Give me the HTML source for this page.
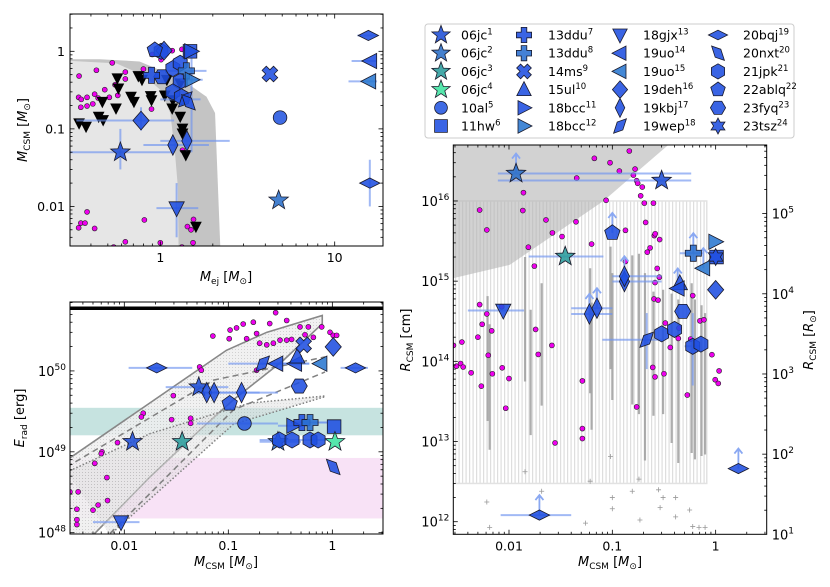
<!DOCTYPE html>
<html><head><meta charset="utf-8">
<style>
html,body{margin:0;padding:0;background:#fff;}
svg{display:block;font-family:"DejaVu Sans","Liberation Sans",sans-serif;}
</style></head>
<body>
<svg id="fig" width="830" height="587" viewBox="0 0 830 587" xmlns="http://www.w3.org/2000/svg">
<defs>
<pattern id="dots" width="3" height="3" patternUnits="userSpaceOnUse"><rect width="3" height="3" fill="#efefef"/><circle cx="1.5" cy="1.5" r="0.5" fill="#bcbcbc"/></pattern>
<pattern id="dots2" width="3" height="3" patternUnits="userSpaceOnUse"><rect width="3" height="3" fill="#e0e0e0"/><circle cx="1.5" cy="1.5" r="0.55" fill="#aaaaaa"/></pattern>
<pattern id="vstripes" width="3.5" height="10" patternUnits="userSpaceOnUse"><rect width="3.5" height="10" fill="#ffffff"/><rect width="1.2" height="10" fill="#dedede"/></pattern>
<clipPath id="clipA"><rect x="70" y="14" width="313" height="232"/></clipPath>
<clipPath id="clipB"><rect x="70" y="302" width="313" height="232"/></clipPath>
<clipPath id="clipC"><rect x="453.3" y="145" width="313.4" height="389.3"/></clipPath>
</defs>
</svg>
<script>
// ---------------- Panel A data: M_ej vs M_CSM ----------------
const aPinkX=[0.342,0.34,0.352,0.35,0.38,0.38,0.41,0.42,0.43,0.44,0.48,0.51,0.53,0.55,0.57,0.63,0.63,0.80,0.90,0.89,1.01,1.17,1.33,1.34,0.34,0.35,0.38,0.37,0.42,0.63,0.81,1.0,1.33,1.55,1.43,1.5,1.54,0.54];
const aPinkY=[0.48,0.255,0.24,0.19,0.255,0.197,0.21,0.28,0.57,0.25,0.32,0.255,0.71,0.37,0.27,0.54,0.44,0.59,0.91,0.18,0.78,1.02,1.06,0.053,0.0053,0.0061,0.0085,0.0061,0.0052,0.0035,0.0067,0.0034,0.0030,0.0068,0.0055,0.005,0.0034,0.003];
const aBlackX=[0.342,0.375,0.443,0.47,0.465,0.557,0.575,0.567,0.679,0.706,0.748,0.785,0.88,0.89,1.06,1.18,1.17,1.30,1.34,1.34,1.40,1.6,1.09,1.30];
const aBlackY=[0.118,0.107,0.144,0.13,0.224,0.184,0.333,0.45,0.26,0.224,0.48,0.43,0.265,0.235,0.27,0.235,0.184,0.144,0.101,0.0875,0.046,0.0055,0.43,0.386];
const aBlueKind=['jpk','deh','jpk','jpk','jpk','jpk','jpk','fyq','ddu7','ddu8','hw','bcc11','bcc12','wep','nxt','deh','kbj','kbj','jc1','gjx','ms','al','jc2','bqj','uo14','uo15','bqj','ablq'];
const aBlueX=[1.01,1.05,1.18,1.3,1.3,1.18,1.32,1.02,0.89,1.41,1.48,1.5,1.51,1.39,1.45,0.775,1.18,1.42,0.59,1.24,4.25,4.86,4.77,15.6,16.0,15.8,15.9,0.93];
const aBlueY=[1.0,1.02,0.6,0.7,0.41,0.3,0.26,0.47,0.49,0.56,1.0,1.0,0.43,0.24,0.22,0.128,0.062,0.07,0.05,0.0095,0.51,0.14,0.012,1.6,0.75,0.41,0.02,1.04];
const aBlueXlo=[null,null,null,null,null,null,null,null,null,1.0,null,null,1.3,1.0,null,0.33,0.8,1.0,0.3,0.95,null,null,null,13.5,12.5,12,null,null];
const aBlueXhi=[null,null,null,null,null,null,null,null,null,1.84,null,null,1.75,1.7,null,1.2,1.9,2.5,1.2,1.65,null,null,null,17.5,17.5,17.5,null,null];
const aBlueYlo=[null,null,null,null,null,null,null,null,null,null,null,null,0.05,null,null,0.095,null,null,0.03,0.004,null,null,null,null,null,null,0.01,null];
const aBlueYhi=[null,null,null,null,null,null,null,null,null,null,null,null,0.9,null,null,0.19,null,null,0.1,0.02,null,null,null,null,null,null,0.04,null];
const aRegionOuterX=[0.2,0.45,0.76,1.0,1.42,1.84,2.06,2.25,0.2];
const aRegionOuterY=[0.79,0.79,0.74,0.57,0.39,0.26,0.16,0.001,0.001];
const aRegionInnerX=[0.2,0.56,0.8,1.0,1.14,1.21,1.26,1.28,0.2];
const aRegionInnerY=[0.79,0.70,0.49,0.32,0.16,0.053,0.018,0.001,0.001];
const aXTicks=[1,10]; const aXTickLabels=['1','10'];
const aYTicks=[1,0.1,0.01]; const aYTickLabels=['1','0.1','0.01'];

// ---------------- Panel B data: M_CSM vs E_rad ----------------
const bPinkX=[0.285,0.364,0.174,0.139,0.12,0.104,0.102,0.071,0.15,0.187,0.2,0.234,0.271,0.314,0.364,0.406,0.489,0.588,0.546,0.657,0.79,0.95,1.02,1.1,0.25,0.187,0.053,0.055,0.0296,0.0152,0.0146,0.0285,0.0434,0.0434,0.0086,0.0061,0.0052,0.006,0.0068,0.0069,0.0056,0.005,0.0036,0.0035,0.0035,0.003,0.0035];
const bPinkY=[5.25e50,4.2e50,4.0e50,3.8e50,3.4e50,3.2e50,2.5e50,2.7e50,2.5e50,2.9e50,2.2e50,2.1e50,2.2e50,2.4e50,2.4e50,2.45e50,3.5e50,3.5e50,2.8e50,2.6e50,3.5e50,3.0e50,2.75e50,2.75e50,3.85e50,1.02e50,1.12e50,1.02e50,4.95e49,3.0e49,2.7e49,2.5e49,2.6e49,2.25e49,1.3e49,1.0e49,7.2e48,9.5e48,4.8e48,2.5e48,2.2e48,1.9e48,3.2e48,1.95e48,1.26e48,3.2e48,1.45e48];
const bBlueKind=['bqj','bqj','deh','jc1','kbj','kbj','kbj','ablq','fyq','wep','uo14','uo14','uo15','ul','ms','al','bcc11','ddu7','ddu8','hw','jc1','jc3','jc2','jc4','jpk','jpk','jpk','jpk','nxt','gjx'];
const bBlueX=[0.0205,1.67,1.02,0.052,0.062,0.073,0.134,0.103,0.48,0.214,0.29,0.44,0.77,0.46,0.53,0.143,0.42,0.51,0.61,1.04,0.012,0.036,0.30,1.06,0.31,0.41,0.61,0.73,1.02,0.0093];
const bBlueY=[1.09e50,1.09e50,1.98e50,6.3e49,5.4e49,5.4e49,5.4e49,3.95e49,6.5e49,1.23e50,1.23e50,1.23e50,1.23e50,1.5e50,2.1e50,2.24e49,2.1e49,2.3e49,2.3e49,2.05e49,1.33e49,1.33e49,1.33e49,1.33e49,1.4e49,1.4e49,1.4e49,1.4e49,6.5e48,1.35e48];
const bBlueXlo=[0.011,1.2,null,0.025,null,0.05,0.05,null,null,0.1,0.2,0.3,null,null,null,0.05,0.3,0.4,0.4,null,null,null,0.2,null,0.2,null,0.5,null,null,0.005];
const bBlueXhi=[0.045,2.2,null,0.1,null,0.2,0.3,null,null,0.5,0.6,0.6,null,null,null,0.3,0.6,0.9,0.9,null,null,null,0.5,null,0.5,null,0.9,null,null,0.014];
const bOutlineX=[0.0028,0.096,0.234,0.8,0.8,0.338,0.112,0.053,0.0177,0.005,0.0028];
const bOutlineY=[7.9e48,1.8e50,3.0e50,4.85e50,3.84e50,1.35e50,4.4e49,1.85e49,4.9e48,9.3e47,9.3e47];
const bDashUpX=[0.0028,0.072,0.85]; const bDashUpY=[6.5e48,7.7e49,1.49e50];
const bDashLoX=[0.0073,0.112,0.85]; const bDashLoY=[9.8e47,3.3e49,9.7e49];
const bDotUpX=[0.0028,0.0177,0.16,0.85]; const bDotUpY=[5.6e48,1.68e49,4.0e49,4.9e49];
const bDotLoX=[0.0073,0.112,0.85]; const bDotLoY=[9.4e47,2.2e49,4.8e49];
const bTealBand=[1.6e49,3.5e49]; const bPinkBand=[1.5e48,8.4e48];
const bXTicks=[0.01,0.1,1]; const bXTickLabels=['0.01','0.1','1'];
const bYTicks=[1e48,1e49,1e50]; const bYTickExp=['48','49','50'];

// ---------------- Panel C data: M_CSM vs R_CSM ----------------
const cPinkX=[0.0029,0.0035,0.0031,0.0034,0.0036,0.0043,0.0052,0.0054,0.005,0.0055,0.0061,0.0063,0.0061,0.0052,0.0069,0.0068,0.0085,0.0086,0.0093,0.01,0.0138,0.0136,0.0154,0.0176,0.0181,0.0192,0.0228,0.0263,0.026,0.0279,0.0326,0.0445,0.0452,0.0513,0.0513,0.0513,0.063,0.067,0.087,0.095,0.117,0.134,0.134,0.146,0.166,0.16,0.172,0.176,0.195,0.188,0.204,0.21,0.218,0.232,0.25,0.255,0.26,0.287,0.272,0.259,0.285,0.253,0.277,0.246,0.259,0.316,0.326,0.364,0.435,0.442,0.532,0.573,0.6,0.705,0.77,0.92,0.99,1.06,1.08,0.172];
const cPinkY=[1.58e14,1.74e14,8.7e13,9.4e13,8.5e13,7.2e13,5.1e14,4.9e13,2.0e14,2.9e14,3.9e14,1.19e14,4.35e15,7.7e15,7e13,2.4e14,4.8e14,8.3e13,2.6e13,6.1e13,1.27e16,7.6e15,2.65e15,1.54e15,2.5e14,1.22e14,5.8e15,4e15,1.58e14,9.6e12,3.6e15,5.5e15,1.93e16,5.7e13,1.45e13,1.09e13,2.9e15,3.4e16,1.02e16,3e16,2.36e16,4.3e15,1.76e15,4.2e16,2.5e16,2.1e16,1.79e16,1.66e16,1.49e16,1.16e16,9.4e15,5.4e15,2.3e15,2.6e15,9.4e15,3.7e15,3.9e15,3.3e15,1.44e15,9.6e14,1.12e15,6e14,5.8e14,8.4e13,6.4e13,7e13,3e14,1.49e14,1.93e14,2.6e14,3.8e13,1.9e14,6.6e14,3.2e14,3.3e14,1.21e14,5.9e13,5.3e13,7.6e13,2.7e13];
const cBarX=[0.0062,0.0065,0.0143,0.0162,0.0207,0.061,0.063,0.096,0.1,0.156,0.181,0.207,0.25,0.31,0.375,0.435,0.586,0.63,0.73,0.79];
const cBarLo=[1.8e13,7.9e12,5.6e13,1.2e13,2.8e13,4e13,1.4e13,8e13,3.3e13,2.9e13,2.2e13,5.8e12,2.1e13,2.2e13,9.6e12,5.4e12,7.2e12,6e12,6.6e12,6.9e12];
const cBarHi=[6.5e14,2.9e14,2e15,4.4e14,9.4e14,1.45e15,5.4e14,2.7e15,1.26e15,2.1e15,2.2e15,1.26e15,7.4e14,7.8e14,7e14,5.9e14,9.4e14,5.9e14,5e14,4e14];
const cPlusX=[0.0061,0.0065,0.0143,0.0207,0.061,0.055,0.096,0.1,0.1,0.156,0.181,0.185,0.28,0.31,0.29,0.41,0.41,0.56,0.6,0.69,0.79];
const cPlusY=[1.76e12,8.5e11,4.2e12,2.4e12,3.2e12,9.6e11,6.5e12,2e12,1.45e12,2.4e12,3.4e12,1.05e12,2.5e12,2e12,1.5e12,2e12,1.15e12,1.4e12,8.7e11,8.5e11,8.5e11];
const cShadeX=[0.0025,0.0102,0.082,0.348,0.348,0.0025]; const cShadeY=[1.04e15,1.6e15,1e16,5e16,6e16,6e16];
const cHatchX=[0.0025,0.82]; const cHatchY=[3e12,1e16];
const cBlueKind=['jc2','jc1','jc3','gjx','ablq','kbj','kbj','kbj','kbj','ddu8','bcc12','hw','tsz','uo15','ul','uo14','deh','fyq','wep','jpk','jpk','jpk','jpk','bqj','bqj'];
const cBlueX=[0.0117,0.30,0.035,0.0088,0.10,0.06,0.071,0.131,0.131,0.608,0.99,1.02,1.0,0.76,0.45,0.43,1.0,0.48,0.215,0.30,0.40,0.60,0.72,1.66,0.0197];
const cBlueY=[2.2e16,1.8e16,2.03e15,4.3e14,4e15,3.9e14,4.6e14,9.9e14,1.15e15,2.23e15,3.1e15,2e15,2e15,1.45e15,9.4e14,8.1e14,7.8e14,4.2e14,1.86e14,2.2e14,2.5e14,1.54e14,1.64e14,4.6e12,1.21e12];
const cBlueXlo=[0.0078,0.0078,0.0155,0.004,null,0.04,0.04,0.1,0.1,0.45,null,null,null,null,null,null,null,null,0.08,null,null,0.5,null,null,0.0083];
const cBlueXhi=[0.58,0.58,0.082,0.014,null,0.1,0.1,0.3,0.3,0.75,null,null,null,null,null,null,null,null,0.3,null,null,0.7,null,null,0.04];
const cBlueYlo=[null,null,null,null,null,null,null,null,null,null,null,null,null,null,null,null,null,null,8e13,null,null,5e13,null,null,null];
const cBlueYhi=[null,null,null,null,null,null,null,null,null,null,null,null,null,null,null,null,null,null,4e14,null,null,4e14,null,null,null];
const cBlueUp=[1,0,0,0,1,1,1,0,1,1,0,0,0,1,0,1,0,0,0,0,0,0,0,1,1];
const cXTicks=[0.01,0.1,1]; const cXTickLabels=['0.01','0.1','1'];
const cYTicks=[1e12,1e13,1e14,1e15,1e16]; const cYTickExp=['12','13','14','15','16'];
const cRTicks=[1e1,1e2,1e3,1e4,1e5]; const cRTickExp=['1','2','3','4','5'];
const RSUN=6.957e10;

// ---------------- Legend ----------------
const legKinds=['jc1','jc2','jc3','jc4','al','hw','ddu7','ddu8','ms','ul','bcc11','bcc12','gjx','uo14','uo15','deh','kbj','wep','bqj','nxt','jpk','ablq','fyq','tsz'];
const legNames=['06jc','06jc','06jc','06jc','10al','11hw','13ddu','13ddu','14ms','15ul','18bcc','18bcc','18gjx','19uo','19uo','19deh','19kbj','19wep','20bqj','20nxt','21jpk','22ablq','23fyq','23tsz'];
const legRefs=['1','2','3','4','5','6','7','8','9','10','11','12','13','14','15','16','17','18','19','20','21','22','23','24'];

// ================= drawing =================
const NS='http://www.w3.org/2000/svg';
const svg=document.getElementById('fig');
function mk(tag,attrs,parent){const e=document.createElementNS(NS,tag);for(const k in attrs)e.setAttribute(k,attrs[k]);(parent||svg).appendChild(e);return e;}
const L=Math.log10;
function axes(px0,px1,py0,py1,lx0,lx1,ly0,ly1){
  return {sx:v=>px0+(L(v)-lx0)/(lx1-lx0)*(px1-px0), sy:v=>py0+(L(v)-ly0)/(ly1-ly0)*(py1-py0), px0,px1,py0,py1,lx0,lx1,ly0,ly1};
}
const A=axes(70,383,14,246,-0.518,1.277,0.481,-2.51);
const B=axes(70,383,302,534,-2.522,0.487,50.852,47.984);
const C=axes(453.3,766.7,145,534.3,-2.539,0.494,16.698,11.843);

const STY={jc1:['star5','#1f4fd6'],jc2:['star5','#2a6ec8'],jc3:['star5','#2b9c9c'],jc4:['star5','#3fe3a0'],al:['circle','#2457e0'],hw:['square','#1f4fe0'],ddu7:['plus','#1f4fe0'],ddu8:['plus','#2a70d0'],ms:['xcross','#1f4fe0'],ul:['triUp','#1f4fe0'],bcc11:['triRight','#1f4fe0'],bcc12:['triRight','#2a78d0'],gjx:['triDown','#1f4fe0'],uo14:['triLeft','#1f4fe0'],uo15:['triLeft','#2a78d0'],deh:['diamond','#1f4fe0'],kbj:['thin','#1f4fe0'],wep:['para','#1f4fe0'],bqj:['wide','#1f4fe0'],nxt:['para2','#1f4fe0'],jpk:['hex','#1f4fe0'],ablq:['pent','#1f4fe0'],fyq:['oct','#1f4fe0'],tsz:['star6','#1f4fe0']};
function poly(n,r,rot){let p=[];for(let i=0;i<n;i++){const a=rot+i*2*Math.PI/n;p.push([r*Math.cos(a),r*Math.sin(a)]);}return p;}
function starp(n,ro,ri){let p=[];for(let i=0;i<2*n;i++){const a=-Math.PI/2+i*Math.PI/n;const r=i%2?ri:ro;p.push([r*Math.cos(a),r*Math.sin(a)]);}return p;}
function shapePts(t,s){
  switch(t){
    case 'star5':return starp(5,s*1.2,s*0.5);
    case 'star6':return starp(6,s*1.0,s*0.55);
    case 'square':return [[-s*.8,-s*.8],[s*.8,-s*.8],[s*.8,s*.8],[-s*.8,s*.8]];
    case 'triUp':return [[0,-s],[s*.9,s*.75],[-s*.9,s*.75]];
    case 'triDown':return [[0,s],[s*.9,-s*.75],[-s*.9,-s*.75]];
    case 'triLeft':return [[-s,0],[s*.75,-s*.9],[s*.75,s*.9]];
    case 'triRight':return [[s,0],[-s*.75,-s*.9],[-s*.75,s*.9]];
    case 'diamond':return [[0,-s*1.1],[s*.95,0],[0,s*1.1],[-s*.95,0]];
    case 'thin':return [[0,-s*1.2],[s*.6,0],[0,s*1.2],[-s*.6,0]];
    case 'wide':return [[-s*1.2,0],[0,-s*.6],[s*1.2,0],[0,s*.6]];
    case 'para':return [[-s*.8,s*.9],[-s*.35,-s*.5],[s*.8,-s*.9],[s*.35,s*.5]];
    case 'para2':return [[-s*.8,-s*.9],[s*.35,-s*.5],[s*.8,s*.9],[-s*.35,s*.5]];
    case 'hex':return poly(6,s*.95,-Math.PI/2);
    case 'pent':return poly(5,s*.95,-Math.PI/2);
    case 'oct':return poly(6,s*.95,0);
    case 'plus':{const a=s*.35,b=s*.95;return [[-a,-b],[a,-b],[a,-a],[b,-a],[b,a],[a,a],[a,b],[-a,b],[-a,a],[-b,a],[-b,-a],[-a,-a]];}
    case 'xcross':{const a=s*.35,b=s*.95;const c=Math.SQRT1_2;return [[-a,-b],[a,-b],[a,-a],[b,-a],[b,a],[a,a],[a,b],[-a,b],[-a,a],[-b,a],[-b,-a],[-a,-a]].map(([x,y])=>[(x-y)*c,(x+y)*c]);}
  }
}
function marker(kind,cx,cy,s,parent){
  const st=STY[kind];
  if(st[0]==='circle'){return mk('circle',{cx,cy,r:s*.8,fill:st[1],'fill-opacity':0.88,stroke:'#1a1a2a','stroke-width':0.8},parent);}
  const pts=shapePts(st[0],s).map(p=>(cx+p[0]).toFixed(2)+','+(cy+p[1]).toFixed(2)).join(' ');
  return mk('polygon',{points:pts,fill:st[1],'fill-opacity':0.88,stroke:'#1a1a2a','stroke-width':0.8,'stroke-linejoin':'miter'},parent);
}
function linePath(ax,xs,ys){return xs.map((x,i)=>(i?'L':'M')+ax.sx(x).toFixed(2)+','+ax.sy(ys[i]).toFixed(2)).join(' ');}

function frame(ax,name,topTicks,rightTicks){
  const g=mk('g',{});
  
  
  mk('rect',{x:ax.px0,y:ax.py0,width:ax.px1-ax.px0,height:ax.py1-ax.py0,fill:'none',stroke:'#000','stroke-width':1},g);
  const tick=(x1,y1,x2,y2)=>mk('line',{x1,y1,x2,y2,stroke:'#000','stroke-width':0.8},g);
  for(let d=Math.floor(ax.lx0);d<=Math.ceil(ax.lx1);d++){for(let k=1;k<10;k++){const l=d+L(k);if(l<ax.lx0||l>ax.lx1)continue;const x=ax.px0+(l-ax.lx0)/(ax.lx1-ax.lx0)*(ax.px1-ax.px0);const len=k===1?4.5:2.5;tick(x,ax.py1,x,ax.py1-len);if(topTicks)tick(x,ax.py0,x,ax.py0+len);}}
  const ylo=Math.min(ax.ly0,ax.ly1),yhi=Math.max(ax.ly0,ax.ly1);
  for(let d=Math.floor(ylo);d<=Math.ceil(yhi);d++){for(let k=1;k<10;k++){const l=d+L(k);if(l<ylo||l>yhi)continue;const y=ax.py0+(l-ax.ly0)/(ax.ly1-ax.ly0)*(ax.py1-ax.py0);const len=k===1?4.5:2.5;tick(ax.px0,y,ax.px0+len,y);if(rightTicks)tick(ax.px1,y,ax.px1-len,y);}}
  return g;
}
function xlabels(ax,vals,labels,name){
  vals.forEach((v,i)=>{const t=mk('text',{x:ax.sx(v),y:ax.py1+16,'text-anchor':'middle','font-size':12.5,fill:'#000'});t.textContent=labels[i];
  
  });
}
function ylabelsPlain(ax,vals,labels,name){
  vals.forEach((v,i)=>{const t=mk('text',{x:ax.px0-5,y:ax.sy(v)+4.5,'text-anchor':'end','font-size':12.5,fill:'#000'});t.textContent=labels[i];
  
  });
}
function ylabelsExp(x,anchor,yfun,vals,exps,name){
  vals.forEach((v,i)=>{const y=yfun(v);const t=mk('text',{x,y:y+5,'text-anchor':anchor,'font-size':13,fill:'#000'});
  const a=mk('tspan',{},t);a.textContent='10';const b=mk('tspan',{dy:-6,'font-size':9},t);b.textContent=exps[i];
  
  });
}
function pink(ax,xs,ys,parent,name){
  xs.forEach((x,i)=>{const c=mk('circle',{cx:ax.sx(x),cy:ax.sy(ys[i]),r:2.5,fill:'#ee00ee',stroke:'#222','stroke-width':0.6},parent);
  
  });
}
function errbars(ax,xs,ys,xlo,xhi,ylo,yhi,parent){
  xs.forEach((x,i)=>{
    if(xlo&&xlo[i]!=null){const l=mk('line',{x1:ax.sx(xlo[i]),x2:ax.sx(xhi[i]),y1:ax.sy(ys[i]),y2:ax.sy(ys[i]),stroke:'#6f94ef','stroke-width':2,'stroke-opacity':0.65},parent);
      
      }
    if(ylo&&ylo[i]!=null){const l=mk('line',{x1:ax.sx(x),x2:ax.sx(x),y1:ax.sy(ylo[i]),y2:ax.sy(yhi[i]),stroke:'#6f94ef','stroke-width':2,'stroke-opacity':0.65},parent);
      
      }
  });
}
function blues(ax,xs,ys,kinds,parent,size){
  xs.forEach((x,i)=>{const m=marker(kinds[i],ax.sx(x),ax.sy(ys[i]),size,parent);
  
  });
}

// ---------- Panel A ----------
{
const g=mk('g',{'clip-path':'url(#clipA)'});


const r1=mk('path',{d:linePath(A,aRegionOuterX,aRegionOuterY)+'Z',fill:'#c4c4c4'},g);


const r2=mk('path',{d:linePath(A,aRegionInnerX,aRegionInnerY)+'Z',fill:'#e6e6e6'},g);


pink(A,aPinkX,aPinkY,g,'model-point');
aBlackX.forEach((x,i)=>{const pts=shapePts('triDown',6.5).map(p=>(A.sx(x)+p[0])+','+(A.sy(aBlackY[i])+p[1])).join(' ');
  const t=mk('polygon',{points:pts,fill:'#000'},g);
  
  });
errbars(A,aBlueX,aBlueY,aBlueXlo,aBlueXhi,aBlueYlo,aBlueYhi,g);
blues(A,aBlueX,aBlueY,aBlueKind,g,8.5);
frame(A,'panel-a',true,true);
xlabels(A,aXTicks,aXTickLabels,'panel-a');
ylabelsPlain(A,aYTicks,aYTickLabels,'panel-a');
}
// ---------- Panel B ----------
{
const g=mk('g',{'clip-path':'url(#clipB)'});


const tb=mk('rect',{x:B.px0,width:B.px1-B.px0,y:B.sy(bTealBand[1]),height:B.sy(bTealBand[0])-B.sy(bTealBand[1]),fill:'#c6e3e0'},g);


const pb=mk('rect',{x:B.px0,width:B.px1-B.px0,y:B.sy(bPinkBand[1]),height:B.sy(bPinkBand[0])-B.sy(bPinkBand[1]),fill:'#f8e2f6'},g);


const ol=mk('path',{d:linePath(B,bOutlineX,bOutlineY)+'Z',fill:'url(#dots)','fill-opacity':0.85,stroke:'#888','stroke-width':1.6},g);


const inner=mk('path',{d:linePath(B,bDotUpX,bDotUpY)+' '+linePath(B,bDotLoX.slice().reverse(),bDotLoY.slice().reverse()).replace('M','L')+'Z',fill:'url(#dots2)','fill-opacity':0.5},g);


[[bDashUpX,bDashUpY,'6,4','dashed-upper'],[bDashLoX,bDashLoY,'6,4','dashed-lower'],[bDotUpX,bDotUpY,'1.5,2','dotted-upper'],[bDotLoX,bDotLoY,'1.5,2','dotted-lower']].forEach(a=>{
  const p=mk('path',{d:linePath(B,a[0],a[1]),fill:'none',stroke:'#808080','stroke-width':1.5,'stroke-dasharray':a[2]},g);
  
  });
pink(B,bPinkX,bPinkY,g,'model-point');
errbars(B,bBlueX,bBlueY,bBlueXlo,bBlueXhi,null,null,g);
blues(B,bBlueX,bBlueY,bBlueKind,g,8.5);
const tl=mk('rect',{x:B.px0,y:306.5,width:B.px1-B.px0,height:3.5,fill:'#000'});


frame(B,'panel-b',true,true);
xlabels(B,bXTicks,bXTickLabels,'panel-b');
ylabelsExp(B.px0-4,'end',B.sy,bYTicks,bYTickExp,'panel-b-y');
}
// ---------- Panel C ----------
{
const g=mk('g',{'clip-path':'url(#clipC)'});


const h=mk('rect',{x:C.sx(cHatchX[0]),y:C.sy(cHatchY[1]),width:C.sx(cHatchX[1])-C.sx(cHatchX[0]),height:C.sy(cHatchY[0])-C.sy(cHatchY[1]),fill:'url(#vstripes)',stroke:'#e2e2e2','stroke-width':1.5},g);


const sh=mk('path',{d:linePath(C,cShadeX,cShadeY)+'Z',fill:'#b4b4b4','fill-opacity':0.6},g);


cBarX.forEach((x,i)=>{const b=mk('line',{x1:C.sx(x),x2:C.sx(x),y1:C.sy(cBarLo[i]),y2:C.sy(cBarHi[i]),stroke:'#9a9a9a','stroke-width':2.2,'stroke-opacity':0.8},g);
  
  });
cPlusX.forEach((x,i)=>{const X=C.sx(x),Y=C.sy(cPlusY[i]);const p=mk('path',{d:`M${X-2.5},${Y}H${X+2.5}M${X},${Y-2.5}V${Y+2.5}`,stroke:'#999','stroke-width':0.8},g);
  
  });
pink(C,cPinkX,cPinkY,g,'model-point');
errbars(C,cBlueX,cBlueY,cBlueXlo,cBlueXhi,cBlueYlo,cBlueYhi,g);
cBlueX.forEach((x,i)=>{if(!cBlueUp[i])return;const X=C.sx(x),Y=C.sy(cBlueY[i]);
  const a=mk('path',{d:`M${X},${Y}V${Y-20}M${X-4},${Y-15}L${X},${Y-20}L${X+4},${Y-15}`,fill:'none',stroke:'#8aa8f2','stroke-width':1.8},g);
  
  });
blues(C,cBlueX,cBlueY,cBlueKind,g,8.5);
frame(C,'panel-c',true,false);
const rg=mk('g',{});


for(let d=0;d<=6;d++){for(let k=1;k<10;k++){const y=C.sy(k*Math.pow(10,d)*RSUN);if(y<C.py0||y>C.py1)continue;mk('line',{x1:C.px1,x2:C.px1-(k===1?4.5:2.5),y1:y,y2:y,stroke:'#000','stroke-width':0.8},rg);}}
xlabels(C,cXTicks,cXTickLabels,'panel-c');
ylabelsExp(C.px0-4,'end',C.sy,cYTicks,cYTickExp,'panel-c-y');
ylabelsExp(C.px1+5,'start',v=>C.sy(v*RSUN),cRTicks,cRTickExp,'panel-c-right');
}
// ---------- Legend ----------
{
const g=mk('g',{});


mk('rect',{x:425,y:24,width:369,height:114,rx:3,fill:'#fff',stroke:'#cccccc','stroke-width':1},g);
const mx=[441,524,620,718],tx=[461,548,643,743];
legKinds.forEach((k,i)=>{const col=Math.floor(i/6),row=i%6;const y=35+row*18.2;
  const m=marker(k,mx[col],y,8,g);
  
  
  const t=mk('text',{x:tx[col],y:y+4.5,'font-size':12.5,fill:'#000'},g);
  const a=mk('tspan',{},t);a.textContent=legNames[i];
  const b=mk('tspan',{dy:-5,'font-size':8.5},t);b.textContent=legRefs[i];
  
  });
}
</script>
<svg style="position:absolute;left:0;top:0" width="830" height="587">
<text x="226" y="281" text-anchor="middle" font-size="13" font-family="DejaVu Sans, Liberation Sans, sans-serif"><tspan font-style="italic">M</tspan><tspan font-size="9" dy="3">ej</tspan><tspan dy="-3"> [</tspan><tspan font-style="italic">M</tspan><tspan font-size="9" dy="3">⊙</tspan><tspan dy="-3">]</tspan></text>
<text transform="translate(27,130) rotate(-90)" text-anchor="middle" font-size="13" font-family="DejaVu Sans, Liberation Sans, sans-serif"><tspan font-style="italic">M</tspan><tspan font-size="9" dy="3">CSM</tspan><tspan dy="-3"> [</tspan><tspan font-style="italic">M</tspan><tspan font-size="9" dy="3">⊙</tspan><tspan dy="-3">]</tspan></text>
<text x="226" y="566" text-anchor="middle" font-size="13" font-family="DejaVu Sans, Liberation Sans, sans-serif"><tspan font-style="italic">M</tspan><tspan font-size="9" dy="3">CSM</tspan><tspan dy="-3"> [</tspan><tspan font-style="italic">M</tspan><tspan font-size="9" dy="3">⊙</tspan><tspan dy="-3">]</tspan></text>
<text transform="translate(24,418) rotate(-90)" text-anchor="middle" font-size="13" font-family="DejaVu Sans, Liberation Sans, sans-serif"><tspan font-style="italic">E</tspan><tspan font-size="9" dy="3">rad</tspan><tspan dy="-3"> [erg]</tspan></text>
<text x="610" y="566" text-anchor="middle" font-size="13" font-family="DejaVu Sans, Liberation Sans, sans-serif"><tspan font-style="italic">M</tspan><tspan font-size="9" dy="3">CSM</tspan><tspan dy="-3"> [</tspan><tspan font-style="italic">M</tspan><tspan font-size="9" dy="3">⊙</tspan><tspan dy="-3">]</tspan></text>
<text transform="translate(410,340) rotate(-90)" text-anchor="middle" font-size="13" font-family="DejaVu Sans, Liberation Sans, sans-serif"><tspan font-style="italic">R</tspan><tspan font-size="9" dy="3">CSM</tspan><tspan dy="-3"> [cm]</tspan></text>
<text transform="translate(813,340) rotate(-90)" text-anchor="middle" font-size="13" font-family="DejaVu Sans, Liberation Sans, sans-serif"><tspan font-style="italic">R</tspan><tspan font-size="9" dy="3">CSM</tspan><tspan dy="-3"> [</tspan><tspan font-style="italic">R</tspan><tspan font-size="9" dy="3">⊙</tspan><tspan dy="-3">]</tspan></text>
</svg>
</body></html>
